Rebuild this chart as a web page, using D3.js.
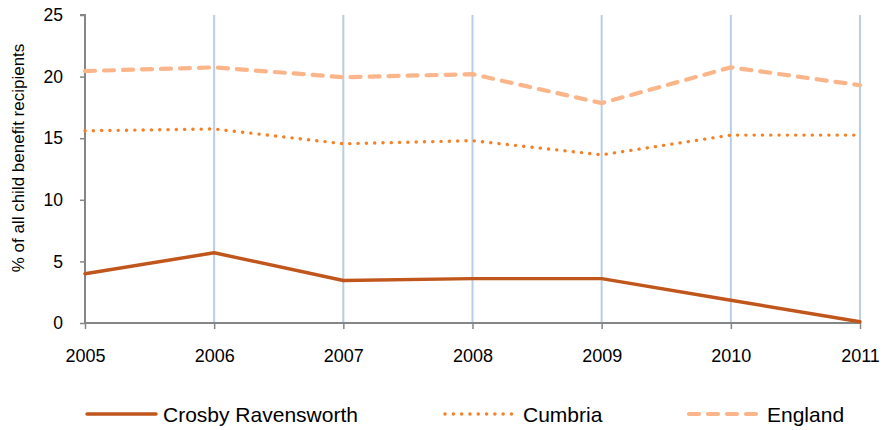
<!DOCTYPE html>
<html><head><meta charset="utf-8">
<script src="https://cdn.jsdelivr.net/npm/d3@7"></script>
<style>body{margin:0;background:#fff}svg{display:block}text{font-family:"Liberation Sans",Arial,sans-serif;fill:#000}</style>
</head><body>
<svg id="c" width="883" height="430"></svg>
<script>
const years = ["2005","2006","2007","2008","2009","2010","2011"];
const crosby = [4.0, 5.7, 3.45, 3.6, 3.6, 1.85, 0.1];
const cumbria = [15.6, 15.75, 14.55, 14.8, 13.65, 15.25, 15.25];
const england = [20.45, 20.75, 19.95, 20.2, 17.85, 20.75, 19.3];
const yTicks = [0, 5, 10, 15, 20, 25];
const seriesNames = ["Crosby Ravensworth", "Cumbria", "England"];

const series = [
  {name: seriesNames[0], values: crosby, color: "#c0561c", width: 3.4, dash: null},
  {name: seriesNames[1], values: cumbria, color: "#f58025", width: 3.4, dash: "0.1,8.2"},
  {name: seriesNames[2], values: england, color: "#fab68a", width: 4.2, dash: "10,9"}
];

const svg = d3.select("#c");
const x = d3.scalePoint().domain(years).range([85, 860]);
const y = d3.scaleLinear().domain([0, 25]).range([323, 15]);

// vertical gridlines
svg.append("g").selectAll("line").data(years.slice(1)).join("line")
  .attr("x1", d => x(d)).attr("x2", d => x(d))
  .attr("y1", y(25)).attr("y2", y(0))
  .attr("stroke", "#b9cde5").attr("stroke-width", 2);

// y axis
const ya = svg.append("g").attr("transform", "translate(85,0)")
  .call(d3.axisLeft(y).tickValues(yTicks).tickSize(5).tickPadding(17));
ya.select(".domain").attr("stroke", "#868686").attr("stroke-width", 2).attr("d", `M-5,${y(25)}H0V${y(0)}`);
ya.selectAll(".tick line").attr("stroke", "#868686").attr("stroke-width", 1.5);
ya.selectAll(".tick text").attr("font-size", 17.5).attr("font-family", "Liberation Sans, Arial, sans-serif");

// x axis
const xa = svg.append("g").attr("transform", `translate(0,${y(0)})`)
  .call(d3.axisBottom(x).tickSize(6).tickPadding(20));
xa.select(".domain").attr("stroke", "#868686").attr("stroke-width", 2).attr("d", `M85,0H860`);
xa.selectAll(".tick line").attr("stroke", "#868686").attr("stroke-width", 1.5);
xa.selectAll(".tick text").attr("font-size", 18).attr("font-family", "Liberation Sans, Arial, sans-serif");

// y title
svg.append("text").attr("transform", "translate(24,158) rotate(-90)")
  .attr("text-anchor", "middle").attr("font-size", 17).text("% of all child benefit recipients");

// lines
const line = d3.line().x((d, i) => x(years[i])).y(d => y(d));
series.slice().reverse().forEach(s => {
  svg.append("path").attr("d", line(s.values)).attr("fill", "none")
    .attr("stroke", s.color).attr("stroke-width", s.width)
    .attr("stroke-dasharray", s.dash).attr("stroke-linecap", "round").attr("stroke-linejoin", "round");
});

// legend
const legX = [87, 445, 689];
const lg = svg.append("g");
series.forEach((s, i) => {
  const g = lg.append("g").attr("transform", `translate(${legX[i]},414)`);
  g.append("line").attr("x1", 0).attr("x2", 69).attr("y1", 0).attr("y2", 0)
    .attr("stroke", s.color).attr("stroke-width", s.width)
    .attr("stroke-dasharray", s.dash).attr("stroke-linecap", "round");
  g.append("text").attr("x", i === 0 ? 76 : 78).attr("y", 8).attr("font-size", 21).text(s.name);
});
</script>
</body></html>
